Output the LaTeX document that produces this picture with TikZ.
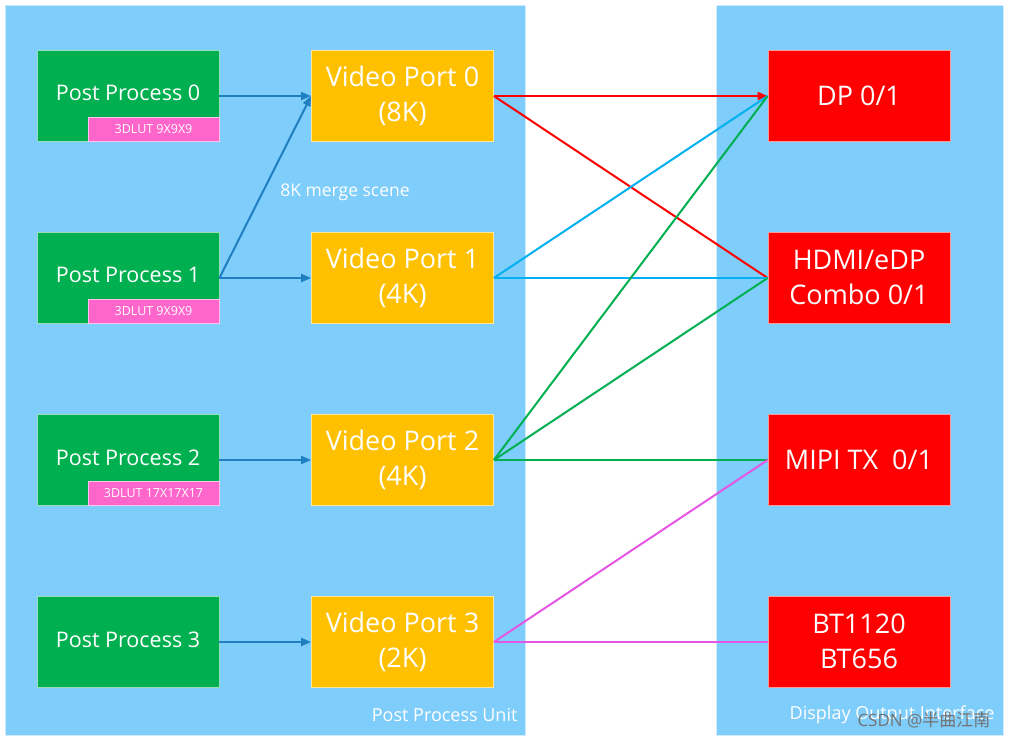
\documentclass[tikz,border=0pt]{standalone}
\usepackage{fontspec}
\setmainfont{Open Sans}
\newfontfamily\cjkfont{Noto Sans CJK SC}
\usetikzlibrary{arrows.meta}
\definecolor{panelblue}{HTML}{7FCDFA}
\definecolor{ppgreen}{HTML}{00B050}
\definecolor{vpyellow}{HTML}{FFC000}
\definecolor{ifred}{HTML}{FF0000}
\definecolor{lutpink}{HTML}{FF66CC}
\definecolor{ppline}{HTML}{1F7FC0}
\definecolor{vp1line}{HTML}{00B0F0}
\definecolor{vp2line}{HTML}{00B050}
\definecolor{vp3line}{HTML}{E656E6}
\begin{document}
\begin{tikzpicture}[x=1pt,y=-1pt,
  panel/.style={fill=panelblue,draw=white!60!panelblue,line width=0.8pt},
  blockbox/.style={minimum width=182pt,minimum height=91pt,inner sep=0pt,align=center,text=white,line width=0.8pt},
  ppbox/.style={blockbox,fill=ppgreen,draw=white!60!ppgreen},
  pptext/.style={text=white,font=\fontsize{21.5}{26}\selectfont},
  vpbox/.style={blockbox,fill=vpyellow,draw=white!60!vpyellow,font=\fontsize{27}{35}\selectfont},
  ifbox/.style={blockbox,fill=ifred,draw=white!60!ifred,font=\fontsize{27}{35}\selectfont},
  lutbox/.style={minimum width=131pt,minimum height=24pt,inner sep=0pt,fill=lutpink,draw=white!60!lutpink,line width=0.8pt,text=white,font=\fontsize{12.5}{14}\selectfont},
  panellabel/.style={text=white,font=\fontsize{18}{21}\selectfont},
  link/.style={line width=2pt},
  tip/.style={-{Triangle[length=10pt,width=8pt]}}
]
\useasboundingbox (0,0) rectangle (1010,740);
\fill[white] (0,0) rectangle (1010,740);
% the two panels
\draw[panel] (5,5) rectangle (525,735);
\draw[panel] (716,5) rectangle (1003,735);
\node[panellabel,anchor=east] (ppu) at (521,715) {Post Process Unit};
\node[panellabel,anchor=east] (doi) at (998,715) {Display Output Interface};
% post process blocks
\node[ppbox] (pp0) at (128,95.5) {};
\node[ppbox] (pp1) at (128,277.5) {};
\node[ppbox] (pp2) at (128,459.5) {};
\node[ppbox] (pp3) at (128,641.5) {};
\node[lutbox,anchor=south east] (lut0) at (pp0.south east) {3DLUT 9X9X9};
\node[lutbox,anchor=south east] (lut1) at (pp1.south east) {3DLUT 9X9X9};
\node[lutbox,anchor=south east] (lut2) at (pp2.south east) {3DLUT 17X17X17};
\node[pptext] (pp0t) at (128,93) {Post Process 0};
\node[pptext] (pp1t) at (128,275) {Post Process 1};
\node[pptext] (pp2t) at (128,458) {Post Process 2};
\node[pptext] (pp3t) at (128,640) {Post Process 3};
% video ports
\node[vpbox] (vp0) at (402.5,95.5) {Video Port 0\\(8K)};
\node[vpbox] (vp1) at (402.5,277.5) {Video Port 1\\(4K)};
\node[vpbox] (vp2) at (402.5,459.5) {Video Port 2\\(4K)};
\node[vpbox] (vp3) at (402.5,641.5) {Video Port 3\\(2K)};
% output interfaces
\node[ifbox] (dp) at (859,95.5) {DP 0/1};
\node[ifbox] (hdmi) at (859,277.5) {HDMI/eDP\\Combo 0/1};
\node[ifbox] (mipi) at (859,459.5) {MIPI TX\ \ 0/1};
\node[ifbox] (bt) at (859,641.5) {BT1120\\BT656};
% connection points, set half a unit off the box centre lines
\foreach \n in {pp0,pp1,pp2,pp3,vp0,vp1,vp2,vp3} \coordinate (\n o) at ([yshift=-0.5pt]\n.east);
\foreach \n in {vp0,vp1,vp2,vp3,dp,hdmi,mipi,bt} \coordinate (\n i) at ([yshift=-0.5pt]\n.west);
% post process to video port
\draw[link,ppline,tip] (pp0o) -- (vp0i);
\draw[link,ppline,tip] (pp1o) -- (vp1i);
\draw[link,ppline,tip] (pp1o) -- (vp0i);
\draw[link,ppline,tip] (pp2o) -- (vp2i);
\draw[link,ppline,tip] (pp3o) -- (vp3i);
\node[text=white,font=\fontsize{17.5}{21}\selectfont] (merge) at (345,192) {8K merge scene};
% video port to output interface
\draw[link,color=ifred,tip] (vp0o) -- (dpi);
\draw[link,color=ifred] (vp0o) -- (hdmii);
\draw[link,color=vp1line] (vp1o) -- (dpi);
\draw[link,color=vp1line] (vp1o) -- (hdmii);
\draw[link,color=vp2line] (vp2o) -- (dpi);
\draw[link,color=vp2line] (vp2o) -- (hdmii);
\draw[link,color=vp2line] (vp2o) -- (mipii);
\draw[link,color=vp3line] (vp3o) -- (mipii);
\draw[link,color=vp3line] (vp3o) -- (bti);
% watermark
\node[text=black!55,font=\fontsize{17}{20}\selectfont,anchor=east] (wm) at (994,720) {CSDN @{\cjkfont 半曲江南}};
\end{tikzpicture}
\end{document}
